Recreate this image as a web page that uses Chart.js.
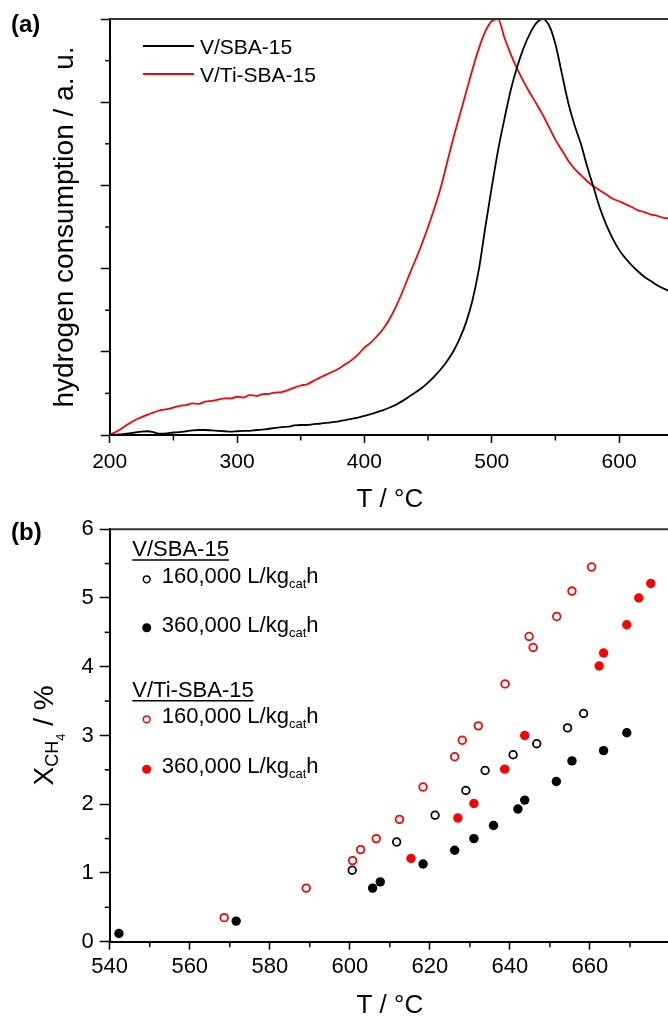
<!DOCTYPE html>
<html><head><meta charset="utf-8">
<script src="https://cdn.jsdelivr.net/npm/chart.js"></script>
<style>
html,body{margin:0;padding:0;background:#fff;overflow:hidden;width:668px;height:1016px;}
#wrapA{position:absolute;left:0;top:0;width:680px;height:520px;}
#wrapB{position:absolute;left:0;top:510px;width:680px;height:520px;}
canvas{display:block;}
</style></head><body>
<div id="wrapA"><canvas id="chartA" width="680" height="520"></canvas></div>
<div id="wrapB"><canvas id="chartB" width="680" height="520"></canvas></div>
<script>
const FONT = "'Liberation Sans', Arial, Helvetica, sans-serif";

// ---------- Panel (a): H2-TPR ----------
const tprTemps = [
  200,205,210,215,220,225,230,235,240,245,250,255,260,265,270,275,280,285,290,295,300,
  305,310,315,320,325,330,335,340,345,350,355,360,365,370,375,380,385,390,395,400,
  405,410,415,420,425,430,435,440,445,450,455,460,465,470,475,480,485,490,495,500,
  505,510,515,520,525,530,535,540,545,550,555,560,565,570,575,580,585,590,595,600,
  605,610,615,620,625,630,635,640];
const tprSBA = [
  0.00,0.01,0.02,0.04,0.06,0.08,0.09,0.06,0.03,0.04,0.06,0.07,0.09,0.11,0.12,0.12,0.11,0.10,0.09,0.08,0.09,
  0.10,0.10,0.12,0.13,0.15,0.17,0.19,0.20,0.23,0.24,0.24,0.26,0.27,0.29,0.31,0.33,0.36,0.39,0.42,0.46,
  0.50,0.55,0.60,0.66,0.73,0.82,0.92,1.02,1.13,1.26,1.41,1.58,1.78,2.02,2.33,2.72,3.25,4.00,5.00,5.95,
  6.85,7.60,8.30,8.85,9.30,9.65,9.90,10.00,9.85,9.40,8.70,8.00,7.45,7.00,6.45,5.95,5.45,5.05,4.72,4.45,
  4.25,4.08,3.93,3.80,3.70,3.60,3.52,3.45];
const tprTiSBA = [
  0.00,0.08,0.17,0.27,0.36,0.43,0.49,0.55,0.60,0.62,0.66,0.70,0.72,0.76,0.75,0.80,0.82,0.85,0.88,0.88,0.92,
  0.90,0.96,0.94,0.98,0.99,1.02,1.03,1.08,1.14,1.19,1.22,1.30,1.38,1.45,1.52,1.60,1.70,1.80,1.93,2.10,
  2.22,2.38,2.56,2.80,3.10,3.45,3.83,4.20,4.58,5.00,5.45,5.95,6.55,7.15,7.70,8.25,8.80,9.30,9.70,9.95,
  10.00,9.55,9.15,8.80,8.50,8.22,7.97,7.70,7.40,7.10,6.85,6.60,6.40,6.25,6.10,5.98,5.88,5.78,5.68,5.62,
  5.55,5.48,5.40,5.36,5.30,5.27,5.22,5.20];
const tprSeriesLabels = ['V/SBA-15', 'V/Ti-SBA-15'];

// ---------- Panel (b): methane conversion ----------
const sba160T = [600.6, 611.7, 621.3, 629.0, 633.8, 640.8, 646.7, 654.4, 658.4];
const sba160X = [1.04, 1.45, 1.84, 2.20, 2.49, 2.72, 2.88, 3.11, 3.32];
const sba360T = [542.3, 571.6, 605.7, 607.6, 618.3, 626.2, 631.0, 635.9, 642.0, 643.7, 651.6, 655.5, 663.4, 669.2];
const sba360X = [0.12, 0.30, 0.78, 0.87, 1.13, 1.33, 1.50, 1.69, 1.93, 2.06, 2.33, 2.63, 2.78, 3.04];
const ti160T = [568.6, 589.1, 600.7, 602.7, 606.6, 612.4, 618.3, 626.2, 628.1, 632.1, 638.8, 644.8, 645.8, 651.7, 655.5, 660.4];
const ti160X = [0.35, 0.78, 1.18, 1.34, 1.50, 1.78, 2.25, 2.69, 2.93, 3.14, 3.75, 4.44, 4.28, 4.73, 5.10, 5.45];
const ti360T = [615.3, 627.0, 631.0, 638.7, 643.7, 662.3, 663.4, 669.2, 672.2, 675.2];
const ti360X = [1.21, 1.80, 2.01, 2.51, 3.00, 4.01, 4.20, 4.61, 5.00, 5.21];
const catalystLabels = ['V/SBA-15', 'V/Ti-SBA-15'];
const flowLabels = ['160,000 L/kg', '360,000 L/kg'];
const convXTickLabels = ['540', '560', '580', '600', '620', '640', '660'];

const zip = (xs, ys) => xs.map((x, i) => ({x: x, y: ys[i]}));

Chart.defaults.font.family = FONT;
Chart.defaults.color = '#000';
Chart.defaults.animation = false;

// minor ticks + frame + panel label
const minorTicks = {
  id: 'minorTicks',
  afterDraw(chart, args, opts) {
    const ctx = chart.ctx;
    ctx.save();
    ctx.strokeStyle = '#000';
    ctx.lineWidth = 1.5;
    (opts.list || []).forEach(m => {
      const s = chart.scales[m.axis];
      for (let v = m.from; v <= m.to + 1e-9; v += m.step) {
        const p = s.getPixelForValue(v);
        ctx.beginPath();
        if (m.axis === 'x') { ctx.moveTo(p, s.top); ctx.lineTo(p, s.top + m.len); }
        else { ctx.moveTo(s.right, p); ctx.lineTo(s.right - m.len, p); }
        ctx.stroke();
      }
    });
    const a = chart.chartArea;
    ctx.strokeStyle = '#333';
    ctx.lineWidth = 2;
    ctx.beginPath();
    ctx.moveTo(a.left, a.top); ctx.lineTo(a.right, a.top); ctx.lineTo(a.right, a.bottom);
    ctx.stroke();
    ctx.fillStyle = '#000';
    ctx.font = 'bold 24px ' + FONT;
    ctx.textBaseline = 'alphabetic';
    ctx.textAlign = 'left';
    ctx.fillText(opts.panel, 11, opts.panelY);
    ctx.restore();
  }
};

const legendA = {
  id: 'legendA',
  afterDraw(chart) {
    const ctx = chart.ctx;
    ctx.save();
    ctx.font = '21px ' + FONT;
    ctx.textBaseline = 'alphabetic';
    chart.data.datasets.forEach((ds, i) => {
      const y = 46 + i * 28;
      ctx.strokeStyle = ds.borderColor;
      ctx.lineWidth = 2;
      ctx.beginPath(); ctx.moveTo(143, y); ctx.lineTo(194, y); ctx.stroke();
      ctx.fillStyle = '#000';
      ctx.fillText(ds.label, 200, y + 7.5);
    });
    ctx.restore();
  }
};

const chartA = new Chart(document.getElementById('chartA'), {
  type: 'line',
  data: {
    datasets: [
      { label: tprSeriesLabels[0], data: zip(tprTemps, tprSBA), borderColor: '#000', borderWidth: 1.8, pointRadius: 0, cubicInterpolationMode: 'monotone' },
      { label: tprSeriesLabels[1], data: zip(tprTemps, tprTiSBA), borderColor: '#ff0000', borderWidth: 1.8, pointRadius: 0, cubicInterpolationMode: 'monotone' }
    ]
  },
  plugins: [minorTicks, legendA],
  options: {
    responsive: false,
    devicePixelRatio: 1,
    layout: { padding: { top: 19, right: 10, bottom: 0, left: 0 } },
    plugins: {
      legend: { display: false },
      tooltip: { enabled: false },
      minorTicks: {
        panel: '(a)', panelY: 32,
        list: [
          { axis: 'x', from: 250, to: 640, step: 100, len: 5.5 },
          { axis: 'y', from: 1, to: 9, step: 2, len: 4.5 }
        ]
      }
    },
    scales: {
      x: {
        type: 'linear', min: 200, max: 640,
        afterFit: s => { s.height = 85; },
        ticks: { stepSize: 100, includeBounds: false, font: { size: 21 }, padding: 7, maxRotation: 0 },
        grid: { display: true, drawOnChartArea: false, drawTicks: true, tickLength: 8, tickWidth: 1.5, tickColor: '#000' },
        border: { display: true, width: 2, color: '#000' },
        title: { display: true, text: 'T / °C', font: { size: 26 }, padding: { top: 0, bottom: 5 } }
      },
      y: {
        min: 0, max: 10,
        afterFit: s => { s.width = 109.7; },
        ticks: { stepSize: 2, display: false },
        grid: { display: true, drawOnChartArea: false, drawTicks: true, tickLength: 9, tickWidth: 1.5, tickColor: '#000' },
        border: { display: true, width: 2, color: '#000' },
        title: { display: true, text: 'hydrogen consumption / a. u.', font: { size: 28 }, padding: { top: 48, bottom: 0 } }
      }
    }
  }
});

const legendB = {
  id: 'legendB',
  afterDraw(chart) {
    const ctx = chart.ctx;
    ctx.save();
    ctx.fillStyle = '#000';
    ctx.textBaseline = 'alphabetic';
    ctx.textAlign = 'left';
    const big = '22px ' + FONT, small = '13px ' + FONT;
    const header = (txt, y) => {
      ctx.font = big; ctx.fillStyle = '#000';
      ctx.fillText(txt, 132.3, y);
      const w = ctx.measureText(txt).width;
      ctx.strokeStyle = '#000'; ctx.lineWidth = 1.5;
      ctx.beginPath(); ctx.moveTo(132.3, y + 4); ctx.lineTo(132.3 + w, y + 4); ctx.stroke();
    };
    const entry = (ds, txt, y) => {
      ctx.beginPath();
      const open = ds.pointBackgroundColor === 'rgba(0,0,0,0)';
      ctx.arc(146.7, y - 4, open ? 3.4 : 4.5, 0, Math.PI * 2);
      if (open) { ctx.strokeStyle = ds.pointBorderColor; ctx.lineWidth = 1.5; ctx.stroke(); }
      else { ctx.fillStyle = ds.pointBackgroundColor; ctx.fill(); }
      ctx.fillStyle = '#000';
      ctx.font = big;
      let x = 161.7;
      ctx.fillText(txt, x, y); x += ctx.measureText(txt).width;
      ctx.font = small;
      ctx.fillText('cat', x, y + 5); x += ctx.measureText('cat').width;
      ctx.font = big;
      ctx.fillText('h', x, y);
    };
    const d = chart.data.datasets;
    header(catalystLabels[0], 46);
    entry(d[0], flowLabels[0], 73.3);
    entry(d[1], flowLabels[1], 121.7);
    header(catalystLabels[1], 186.7);
    entry(d[2], flowLabels[0], 213.3);
    entry(d[3], flowLabels[1], 263.3);

    // y axis title: X_{CH4} / %
    const a = chart.chartArea;
    const parts = [
      { t: 'X', f: '28px ' + FONT, dy: 0 },
      { t: 'CH', f: '18px ' + FONT, dy: 5 },
      { t: '4', f: '13px ' + FONT, dy: 12 },
      { t: ' / %', f: '28px ' + FONT, dy: 0 }
    ];
    let total = 0;
    parts.forEach(p => { ctx.font = p.f; p.w = ctx.measureText(p.t).width; total += p.w; });
    ctx.translate(53, (a.top + a.bottom) / 2 + total / 2);
    ctx.rotate(-Math.PI / 2);
    ctx.fillStyle = '#000';
    let x = 0;
    parts.forEach(p => { ctx.font = p.f; ctx.fillText(p.t, x, p.dy); x += p.w; });
    ctx.restore();
  }
};

const openPt = (color) => ({ pointBackgroundColor: 'rgba(0,0,0,0)', pointBorderColor: color, pointBorderWidth: 1.8, pointRadius: 3.8 });
const fillPt = (color) => ({ pointBackgroundColor: color, pointBorderColor: color, pointBorderWidth: 0, pointRadius: 4.7 });

const chartB = new Chart(document.getElementById('chartB'), {
  type: 'scatter',
  data: {
    datasets: [
      Object.assign({ label: catalystLabels[0] + ' ' + flowLabels[0] + 'cath', data: zip(sba160T, sba160X) }, openPt('#000')),
      Object.assign({ label: catalystLabels[0] + ' ' + flowLabels[1] + 'cath', data: zip(sba360T, sba360X) }, fillPt('#000')),
      Object.assign({ label: catalystLabels[1] + ' ' + flowLabels[0] + 'cath', data: zip(ti160T, ti160X) }, openPt('#ff0000')),
      Object.assign({ label: catalystLabels[1] + ' ' + flowLabels[1] + 'cath', data: zip(ti360T, ti360X) }, fillPt('#ff0000'))
    ]
  },
  plugins: [minorTicks, legendB],
  options: {
    responsive: false,
    devicePixelRatio: 1,
    layout: { padding: { top: 15, right: 10, bottom: 0, left: 0 } },
    plugins: {
      legend: { display: false },
      tooltip: { enabled: false },
      minorTicks: {
        panel: '(b)', panelY: 29.5,
        list: [
          { axis: 'x', from: 550, to: 680, step: 20, len: 5.5 },
          { axis: 'y', from: 0.5, to: 5.5, step: 1, len: 5 }
        ]
      }
    },
    scales: {
      x: {
        type: 'linear', min: 540, max: 680,
        afterFit: s => { s.height = 88.3; },
        ticks: {
          stepSize: 20, includeBounds: false, font: { size: 22 }, padding: 4, maxRotation: 0,
          callback: v => convXTickLabels.includes(String(v)) ? String(v) : ''
        },
        grid: { display: true, drawOnChartArea: false, drawTicks: true, tickLength: 8, tickWidth: 1.5, tickColor: '#000' },
        border: { display: true, width: 2, color: '#000' },
        title: { display: true, text: 'T / °C', font: { size: 26 }, padding: { top: 0, bottom: 9 } }
      },
      y: {
        min: 0, max: 6,
        afterFit: s => { s.width = 109.7; },
        ticks: { stepSize: 1, font: { size: 22 }, padding: 6 },
        grid: { display: true, drawOnChartArea: false, drawTicks: true, tickLength: 10, tickWidth: 1.5, tickColor: '#000' },
        border: { display: true, width: 2, color: '#000' },
        title: { display: false }
      }
    }
  }
});
</script>
</body></html>
